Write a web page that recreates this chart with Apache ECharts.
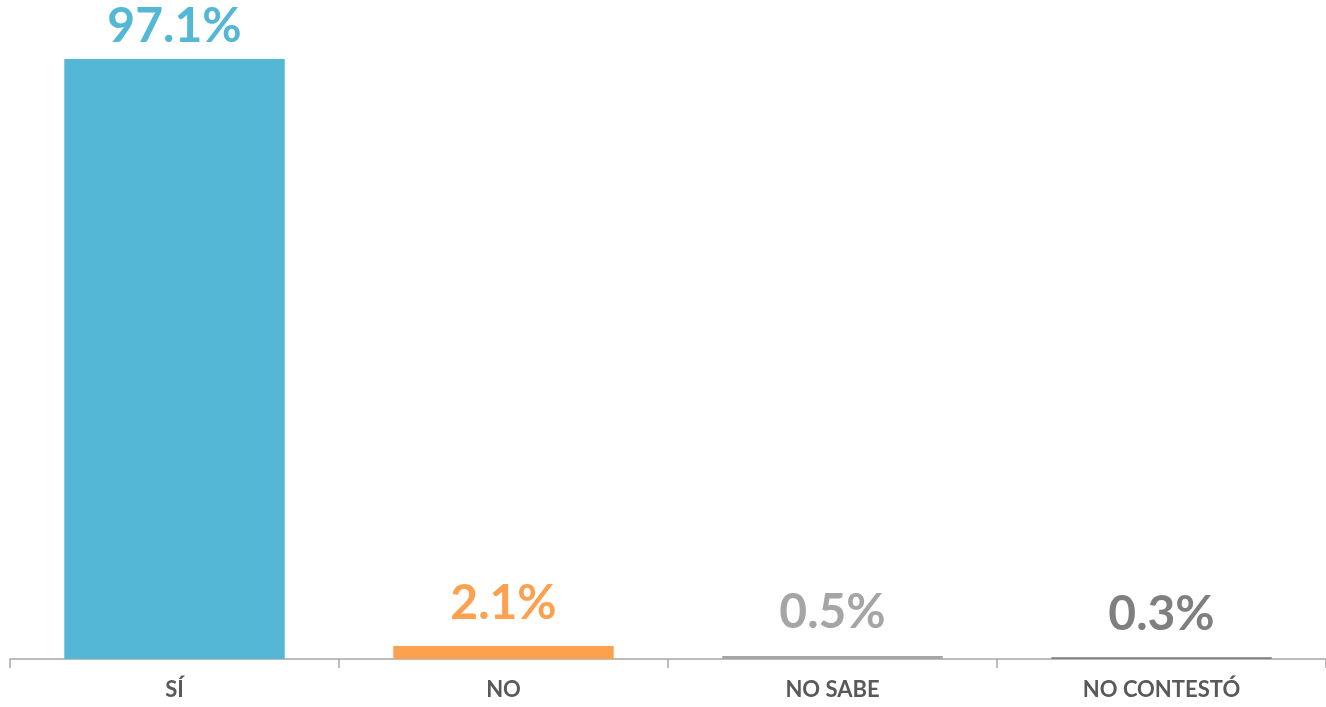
<!DOCTYPE html>
<html><head><meta charset="utf-8">
<script src="https://cdn.jsdelivr.net/npm/echarts@6/dist/echarts.min.js"></script>
<style>html,body{margin:0;padding:0;background:#fff}#c{width:1326px;height:707px}</style>
</head><body><div id="c"></div>
<script>
const categories = ['SÍ', 'NO', 'NO SABE', 'NO CONTESTÓ'];
const values = [97.1, 2.1, 0.5, 0.3];
const colors = ['#53B7D5', '#FDA14E', '#A5A5A5', '#7F7F7F'];
const labelGaps = [8, 19, 19, 19];

const chart = echarts.init(document.getElementById('c'));
chart.setOption({
  animation: false,
  grid: { left: 10, right: 0, top: 41, bottom: 48, containLabel: false },
  xAxis: {
    type: 'category', data: categories,
    axisLine: { lineStyle: { color: '#A6A6A6', width: 1.5 } },
    axisTick: { show: true, length: 9, lineStyle: { color: '#A6A6A6', width: 1.5 } },
    axisLabel: { color: '#595959', fontFamily: 'Lato', fontWeight: 'bold', fontSize: 22, margin: 20 }
  },
  yAxis: { type: 'value', min: 0, max: 100, show: false, splitLine: { show: false } },
  series: [{
    type: 'bar', barWidth: '67%',
    data: values.map((v, i) => ({
      value: v,
      itemStyle: { color: colors[i] },
      label: { show: true, position: 'top', distance: labelGaps[i], color: colors[i],
        fontFamily: 'Lato', fontWeight: 'bold', fontSize: 48,
        formatter: p => p.value.toFixed(1) + '%' }
    }))
  }]
});
</script></body></html>
